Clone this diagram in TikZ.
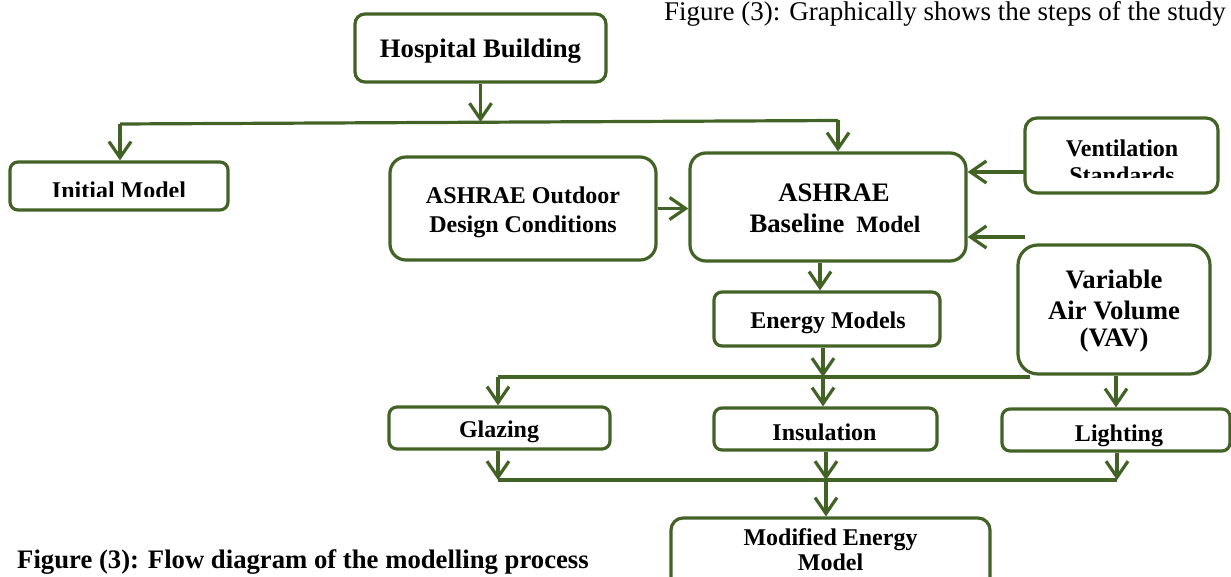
\documentclass[tikz,border=0pt]{standalone}
\usepackage{fontspec}
\setmainfont{Liberation Serif}
\usetikzlibrary{arrows.meta}
\definecolor{dg}{RGB}{66,98,38}
\begin{document}
\begin{tikzpicture}[x=1pt,y=-1pt,
  box/.style={draw=dg, line width=3.2pt, rounded corners=12pt, inner sep=0pt},
  sbox/.style={box, rounded corners=8pt},
  arr/.style={draw=dg, line width=3.2pt, -{Straight Barb[length=16pt,width=22pt]}},
  ln/.style={draw=dg, line width=3.2pt},
  lab/.style={font=\fontsize{24}{28}\selectfont\bfseries, inner sep=0pt, anchor=base},
  big/.style={font=\fontsize{26.7}{30}\selectfont\bfseries, inner sep=0pt, anchor=base},
]
\useasboundingbox (0,0) rectangle (1231,577);

% boxes
\node[box, rounded corners=10pt, minimum width=251pt, minimum height=68pt] (hosp) at (480.5,48) {};
\node[sbox, minimum width=218pt, minimum height=48pt] (init) at (119,186) {};
\node[box, rounded corners=16pt, minimum width=266pt, minimum height=103pt] (outd) at (523,208.5) {};
\node[box, rounded corners=16pt, minimum width=276pt, minimum height=108pt] (base) at (828,207) {};
\node[box, minimum width=193pt, minimum height=75pt] (vent) at (1121.5,155.5) {};
\node[box, rounded corners=20pt, minimum width=192pt, minimum height=129pt] (vav) at (1114,309.5) {};
\node[sbox, minimum width=226pt, minimum height=54pt] (energy) at (827,319) {};
\node[sbox, minimum width=221pt, minimum height=42pt] (glaz) at (499.5,428) {};
\node[sbox, minimum width=223pt, minimum height=42pt] (insul) at (825.5,429) {};
\node[sbox, minimum width=228pt, minimum height=42pt] (light) at (1116,430) {};
\node[box, minimum width=319pt, minimum height=74pt] (mod) at (830.5,555) {};

% texts
\node[big] (t-hosp) at (480.5,58) {Hospital Building};
\begin{scope}
  \clip (0,0) rectangle (300,197);
  \node[lab] (t-init) at (119,199) {Initial Model};
\end{scope}
\node[lab] (t-outd1) at (523,204) {ASHRAE Outdoor};
\node[lab] (t-outd2) at (523,232.5) {Design Conditions};
\node[big] (t-base1) at (834,201.7) {ASHRAE};
\node[big] (t-base2) at (835,232.7) {Baseline\hspace{12pt}{\fontsize{23.5}{28}\selectfont Model}};
\node[lab] (t-vent1) at (1122,156.7) {Ventilation};
\begin{scope}
  \clip (1000,160) rectangle (1231,177.5);
  \node[lab] (t-vent2) at (1122,184) {Standards};
\end{scope}
\node[big] (t-vav1) at (1114,289) {Variable};
\node[big] (t-vav2) at (1114,319) {Air Volume};
\node[big] (t-vav3) at (1114,346) {(VAV)};
\node[lab] (t-energy) at (828,328) {Energy Models};
\node[lab] (t-glaz) at (499,437.7) {Glazing};
\node[lab] (t-insul) at (824.5,440) {Insulation};
\node[lab] (t-light) at (1119,441.7) {Lighting};
\node[lab] (t-mod1) at (830.5,545) {Modified Energy};
\node[lab] (t-mod2) at (830.5,570) {Model};
\node[big, anchor=base west] (caption) at (17,568) {Figure (3): Flow diagram of the modelling process};
\node[font=\fontsize{27}{30}\selectfont, inner sep=0pt, anchor=base west] (toptext) at (664,20.5) {Figure (3): Graphically shows the steps of the study};

% connectors
\coordinate (jl) at (120,124);
\coordinate (jr) at (838,120.5);
\coordinate (jh) at (481,122);
\draw[arr] (hosp.south) -- (hosp.south |- jh);
\draw[ln] (jl) -- (jr);
\draw[arr] (jl) -- (jl |- init.north);
\draw[arr] (jr) -- (jr |- base.north);
\draw[arr] (outd.east) -- (outd.east -| base.west);
\coordinate (v1) at (1025,172);
\coordinate (v2) at (1025,237);
\draw[arr] (v1) -- (v1 -| base.east);
\draw[arr] (v2) -- (v2 -| base.east);
\draw[arr] ([xshift=-8pt]base.south) -- ([xshift=-8pt]base.south |- energy.north);
\coordinate (e1) at (823,377);
\coordinate (hl) at (498,377);
\coordinate (hr) at (1030,377);
\draw[arr] (energy.south -| e1) -- (e1);
\draw[ln] (hl) -- (hr);
\draw[arr] (hl) -- (hl |- glaz.north);
\draw[arr] (e1) -- (e1 |- insul.north);
\draw[arr] (vav.south -| light.north) -- (light.north);
\coordinate (bl) at (498,480);
\coordinate (bm) at (826,480);
\coordinate (br) at (1117,480);
\draw[arr] (glaz.south -| bl) -- (bl);
\draw[arr] (insul.south -| bm) -- (bm);
\draw[arr] (light.south -| br) -- (br);
\draw[ln] (bl) -- (br);
\draw[arr] (bm) -- (bm |- mod.north);
\end{tikzpicture}
\end{document}
